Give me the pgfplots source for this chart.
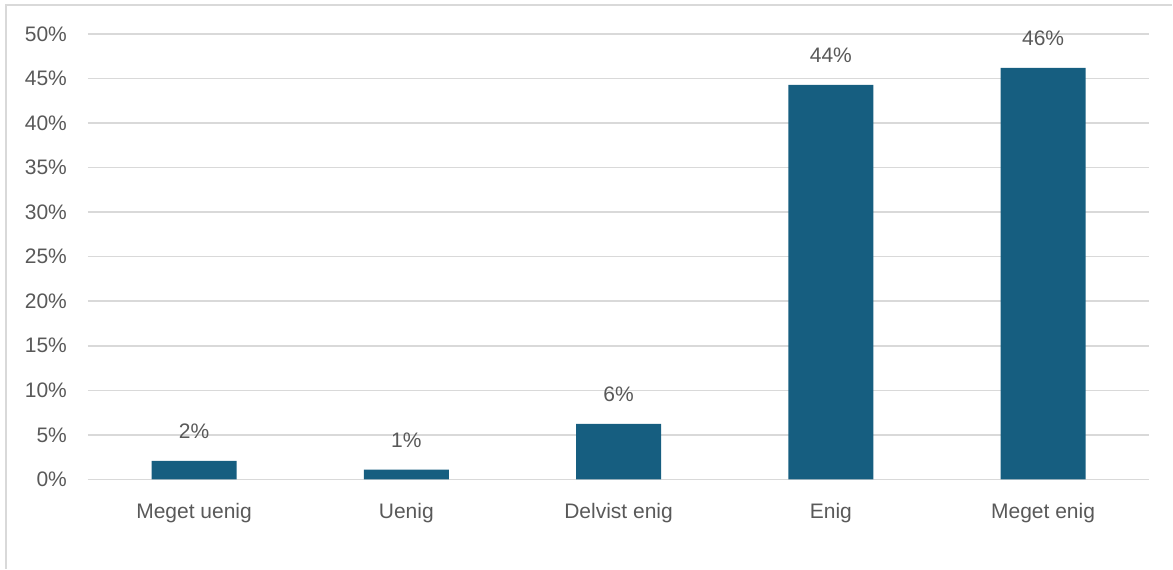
\documentclass[border=0pt]{standalone}
\usepackage{fontspec}
\setmainfont{Liberation Sans}
\usepackage{pgfplots}
\pgfplotsset{compat=1.18}
\definecolor{barblue}{HTML}{165E80}
\definecolor{txtgray}{HTML}{595959}
\definecolor{gridgray}{HTML}{D9D9D9}
\begin{document}
\begin{tikzpicture}[x=1pt,y=1pt]
  % outer frame (only left and top edges visible in the crop)
  \path (0,0) rectangle (586.5,284.5);
  \draw[gridgray,line width=0.8pt] (3,0) -- (3,282) -- (586.5,282);
  \begin{axis}[
    at={(44pt,44.65pt)}, anchor=south west,
    scale only axis,
    width=531pt, height=222.85pt,
    ybar, bar width=42.5pt,
    xmin=-0.5, xmax=4.5,
    ymin=0, ymax=50,
    xtick=data,
    xticklabels={Meget uenig, Uenig, Delvist enig, Enig, Meget enig},
    ytick={0,5,...,50},
    yticklabel={\pgfmathprintnumber{\tick}\%},
    /pgf/number format/assume math mode=true,
    ymajorgrids=true,
    grid style={gridgray, line width=0.75pt},
    axis line style={draw=none},
    major tick length=0pt,
    tick label style={font=\fontsize{10.5}{12}\selectfont, text=txtgray},
    xticklabel style={yshift=-8.5pt},
    yticklabel style={xshift=-7pt},
    nodes near coords={\pgfmathprintnumber[fixed,precision=0]{\pgfplotspointmeta}\%},
    nodes near coords style={font=\fontsize{10.5}{12}\selectfont, text=txtgray, anchor=south, yshift=7.5pt},
    clip=false,
  ]
    \addplot[fill=barblue, draw=none] coordinates {
      (0,2.09) (1,1.1) (2,6.23) (3,44.3) (4,46.2)
    };
  \end{axis}
\end{tikzpicture}
\end{document}
